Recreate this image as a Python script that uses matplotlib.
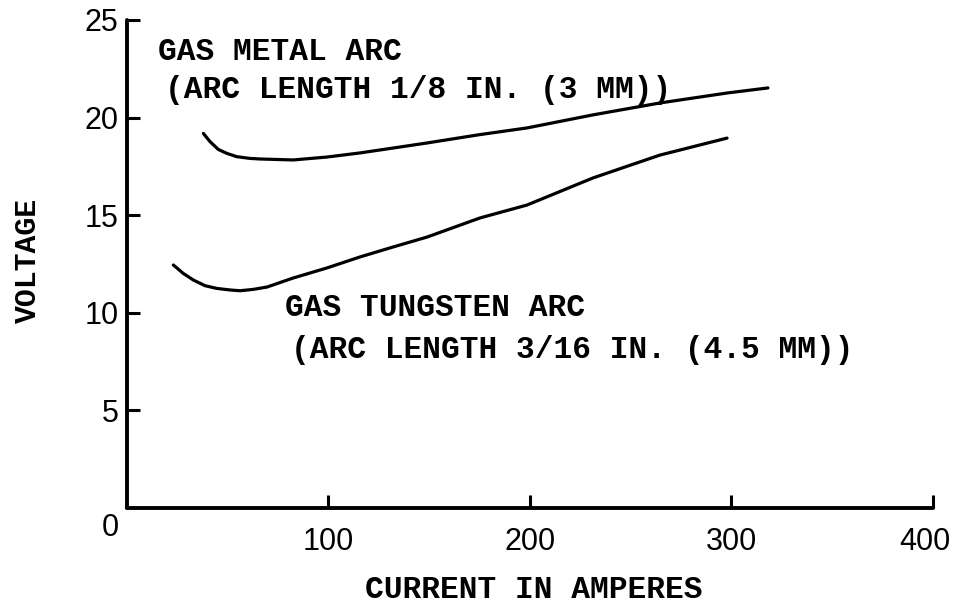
import matplotlib
matplotlib.use('Agg')
import matplotlib.pyplot as plt
from matplotlib.transforms import ScaledTranslation

# values (current in A, voltage in V)
gma_current = [37.9, 41.2, 45.3, 49.5, 54.4, 61.0, 66.0, 82.4, 99.3, 115.6,
               132.0, 148.9, 175.2, 198.5, 231.3, 264.5, 297.8, 318.1]
gma_voltage = [19.19, 18.77, 18.37, 18.17, 18.00, 17.91, 17.88, 17.83, 17.98,
               18.19, 18.44, 18.70, 19.13, 19.47, 20.14, 20.75, 21.26, 21.52]

gta_current = [23.0, 27.9, 32.9, 38.7, 44.5, 51.1, 56.1, 62.7, 69.5, 82.4,
               99.3, 115.6, 132.0, 148.9, 175.2, 198.5, 231.3, 264.5, 297.8]
gta_voltage = [12.45, 12.02, 11.68, 11.39, 11.25, 11.17, 11.13, 11.20, 11.32,
               11.78, 12.30, 12.86, 13.37, 13.88, 14.86, 15.52, 16.91, 18.08,
               18.95]

x_ticks = [100, 200, 300, 400]
y_ticks = [5, 10, 15, 20, 25]

gma_label = ['GAS METAL ARC', '(ARC LENGTH 1/8 IN. (3 MM))']
gta_label = ['GAS TUNGSTEN ARC', '(ARC LENGTH 3/16 IN. (4.5 MM))']

TYPE = 'Liberation Mono'
NUMS = 'Liberation Sans'
TW = 'bold'

fig = plt.figure(figsize=(9.57, 6.06), dpi=100)
ax = fig.add_axes([0.1327, 0.1617, 0.8422, 0.8053])

ax.plot(gma_current, gma_voltage, color='black', lw=2.3, solid_capstyle='round')
ax.plot(gta_current, gta_voltage, color='black', lw=2.3, solid_capstyle='round')

ax.set_xlim(0, 400)
ax.set_ylim(0, 25)

for s in ['top', 'right']:
    ax.spines[s].set_visible(False)
for s in ['left', 'bottom']:
    ax.spines[s].set_linewidth(2.8)
    ax.spines[s].set_capstyle('round')

ax.set_xticks(x_ticks)
ax.set_yticks(y_ticks)
ax.tick_params(axis='both', direction='in', length=9.5, width=2.2)
ax.tick_params(axis='x', pad=14)
ax.tick_params(axis='y', pad=6)
for lab in ax.get_xticklabels() + ax.get_yticklabels():
    lab.set_fontfamily(NUMS)
    lab.set_fontsize(22)
# last x label would run off the right edge, nudge it in a bit
last = ax.get_xticklabels()[-1]
last.set_transform(last.get_transform() + ScaledTranslation(-8 / 100, 0, fig.dpi_scale_trans))

# lone origin label, sits below-left of the corner
ax.text(-8.4, -1.0, '0', fontfamily=NUMS, fontsize=22,
        ha='center', va='center', clip_on=False)

# curve captions
ax.text(15.4, 23.36, gma_label[0], fontfamily=TYPE, fontweight=TW,
        fontsize=22.5, ha='left', va='center')
ax.text(18.9, 21.41, gma_label[1], fontfamily=TYPE, fontweight=TW,
        fontsize=22.5, ha='left', va='center')
ax.text(78.4, 10.25, gta_label[0], fontfamily=TYPE, fontweight=TW,
        fontsize=22.5, ha='left', va='center')
ax.text(81.4, 8.09, gta_label[1], fontfamily=TYPE, fontweight=TW,
        fontsize=22.5, ha='left', va='center')

fig.text(28 / 957, 1 - 260 / 606, 'VOLTAGE', fontfamily=TYPE, fontweight=TW,
         fontsize=21.5, rotation=90, ha='center', va='center')
fig.text(534 / 957, 1 - 590 / 606, 'CURRENT IN AMPERES', fontfamily=TYPE,
         fontweight=TW, fontsize=22.5, ha='center', va='center')

fig.savefig('out.png', dpi=100)
